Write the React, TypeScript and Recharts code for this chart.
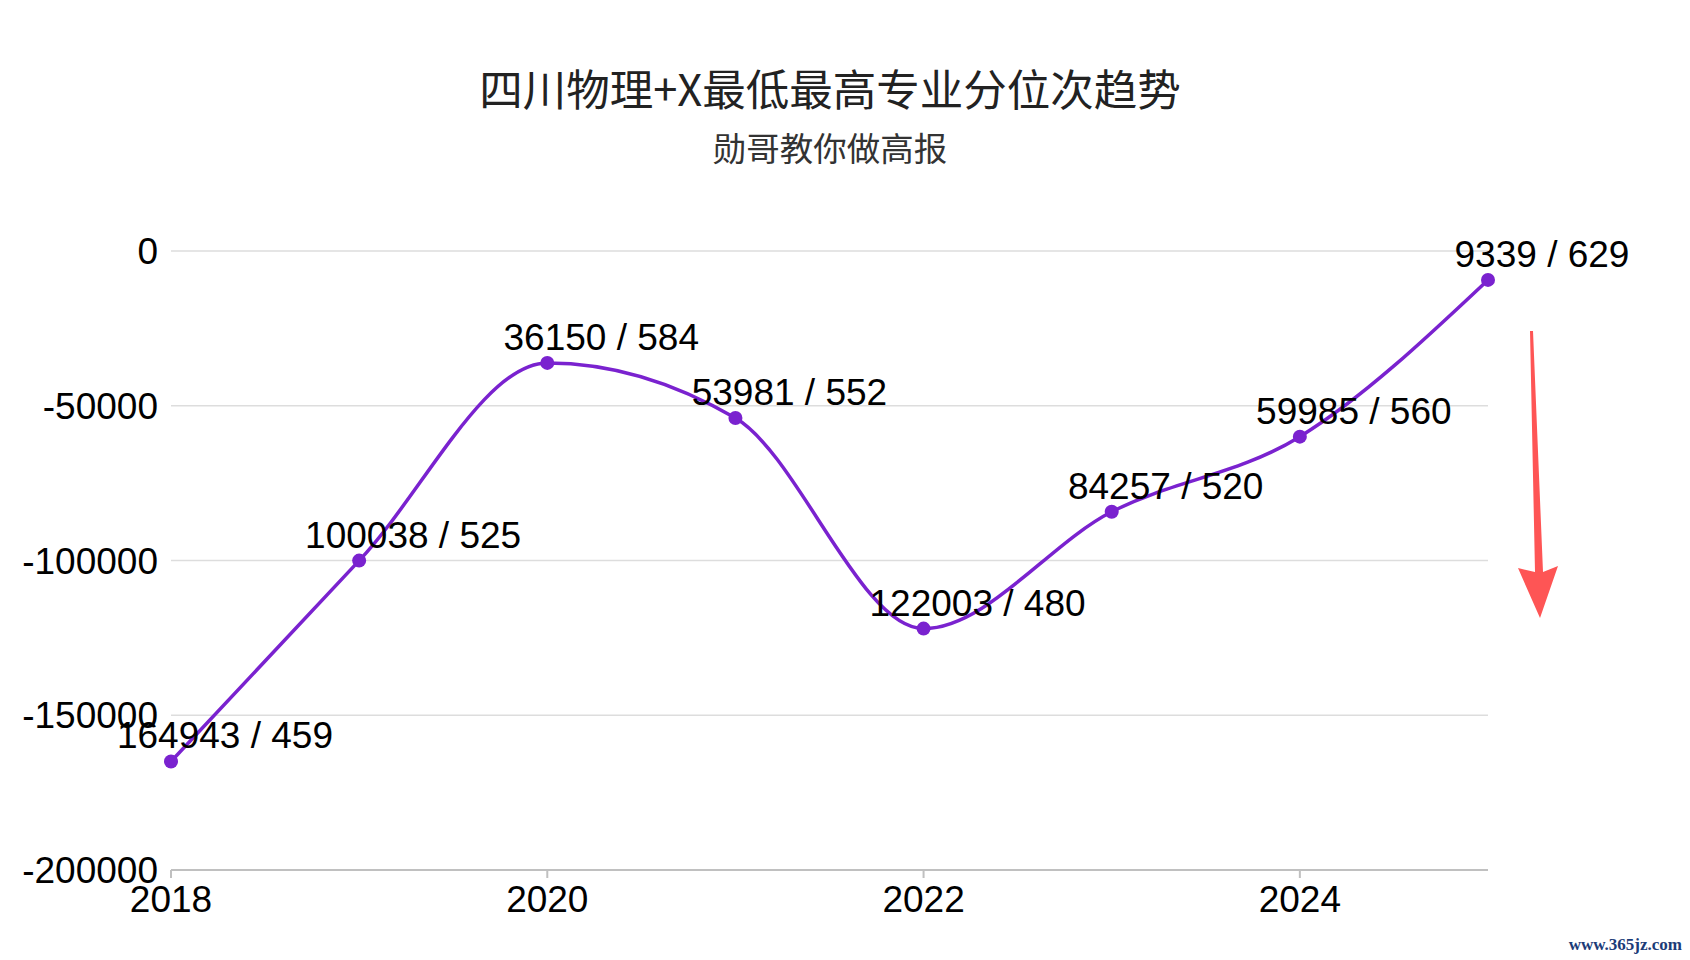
import { CartesianGrid, LabelList, Line, LineChart, XAxis, YAxis } from 'recharts'

const years = [2018, 2019, 2020, 2021, 2022, 2023, 2024, 2025]
const ranks = [164943, 100038, 36150, 53981, 122003, 84257, 59985, 9339]
const scores = [459, 525, 584, 552, 480, 520, 560, 629]
const yearTicks = [2018, 2020, 2022, 2024]
const rankTicks = [0, -50000, -100000, -150000, -200000]

const data = years.map((year, i) => ({ year, rank: -ranks[i] }))

const purple = '#7a22cf'
const sans = '"Liberation Sans", Arial, Helvetica, sans-serif'
const cjk = '"Noto Sans CJK SC", "Noto Sans", sans-serif'

function PointLabel(props: any) {
  const { x, y, index } = props
  return (
    <text
      x={x + 54}
      y={y - 13}
      textAnchor='middle'
      fontSize={37}
      fontFamily={sans}
      fill='#000'
    >
      {`${ranks[index]} / ${scores[index]}`}
    </text>
  )
}

export default function App() {
  return (
    <div style={{ position: 'absolute', left: 0, top: 0, width: 1690, height: 960, background: '#fff' }}>
      <div
        style={{
          position: 'absolute', left: 380, width: 900, top: 61, textAlign: 'center',
          fontFamily: cjk, fontSize: 43.5, lineHeight: '54px', color: '#222', fontWeight: 400,
        }}
      >
        四川物理+X最低最高专业分位次趋势
      </div>
      <div
        style={{
          position: 'absolute', left: 430, width: 800, top: 126, textAlign: 'center',
          fontFamily: cjk, fontSize: 33.5, lineHeight: '42px', color: '#333',
        }}
      >
        勋哥教你做高报
      </div>
      <LineChart width={1690} height={960} data={data} margin={{ top: 251, right: 202, bottom: 0, left: 0 }}>
        <CartesianGrid vertical={false} stroke='#dddddd' strokeWidth={1.5} />
        <XAxis
          dataKey='year'
          type='number'
          domain={[2018, 2025]}
          ticks={yearTicks}
          height={90}
          tickSize={8}
          tickMargin={8}
          stroke='#c0c0c0'
          strokeWidth={2}
          tick={{ fill: '#000', fontSize: 37, fontFamily: sans }}
        />
        <YAxis
          type='number'
          domain={[-200000, 0]}
          ticks={rankTicks}
          width={171}
          axisLine={false}
          tickLine={false}
          tickSize={0}
          tickMargin={13}
          tickFormatter={(v) => String(v)}
          tick={{ fill: '#000', fontSize: 37, fontFamily: sans }}
        />
        <Line
          type='monotone'
          dataKey='rank'
          stroke={purple}
          strokeWidth={3.5}
          dot={{ r: 7, fill: purple, stroke: purple, strokeWidth: 0 }}
          activeDot={false}
          isAnimationActive={false}
        >
          <LabelList dataKey='rank' content={PointLabel} />
        </Line>
      </LineChart>
      <svg width={1690} height={960} style={{ position: 'absolute', left: 0, top: 0, pointerEvents: 'none' }}>
        <polygon
          points='1530,331 1533,331 1543,572 1558,566 1540,618 1518,568 1535,572'
          fill='#fe5555'
        />
        <text
          x={1682}
          y={950}
          textAnchor='end'
          fontFamily='"Liberation Serif", "DejaVu Serif", serif'
          fontWeight='bold'
          fontSize={17}
          fill='#1c3c78'
        >
          www.365jz.com
        </text>
      </svg>
    </div>
  )
}
